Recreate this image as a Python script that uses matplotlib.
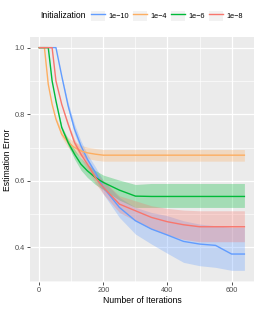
import matplotlib
matplotlib.use("Agg")
import matplotlib.pyplot as plt
from matplotlib.lines import Line2D
from matplotlib.patches import Patch

plt.rcParams['font.family'] = ['Liberation Sans', 'DejaVu Sans']

# data
iters = [0, 16, 28, 40, 52, 70, 90, 110, 130, 150, 175, 200, 250, 300, 350, 400, 450, 500, 550, 600, 640]

err_1e10 = [1.0, 1.0, 1.0, 1.0, 1.0, 0.915, 0.825, 0.755, 0.705, 0.665, 0.625, 0.58, 0.52, 0.48, 0.455, 0.437, 0.418, 0.41, 0.406, 0.38, 0.38]
lo_1e10 = [1.0, 1.0, 1.0, 1.0, 1.0, 0.915, 0.815, 0.74, 0.69, 0.65, 0.608, 0.56, 0.49, 0.44, 0.41, 0.382, 0.355, 0.345, 0.34, 0.331, 0.331]
hi_1e10 = [1.0, 1.0, 1.0, 1.0, 1.0, 0.915, 0.835, 0.77, 0.72, 0.68, 0.642, 0.60, 0.55, 0.52, 0.505, 0.495, 0.48, 0.47, 0.465, 0.46, 0.46]

err_1e4 = [1.0, 1.0, 0.89, 0.83, 0.785, 0.74, 0.715, 0.70, 0.69, 0.684, 0.68, 0.677, 0.677, 0.677, 0.677, 0.677, 0.677, 0.677, 0.677, 0.677, 0.677]
lo_1e4 = [1.0, 1.0, 0.89, 0.83, 0.78, 0.73, 0.70, 0.683, 0.673, 0.667, 0.662, 0.659, 0.659, 0.659, 0.659, 0.659, 0.659, 0.659, 0.659, 0.659, 0.659]
hi_1e4 = [1.0, 1.0, 0.89, 0.83, 0.79, 0.75, 0.73, 0.717, 0.707, 0.701, 0.697, 0.694, 0.694, 0.694, 0.694, 0.694, 0.694, 0.694, 0.694, 0.694, 0.694]

err_1e6 = [1.0, 1.0, 1.0, 0.90, 0.84, 0.76, 0.715, 0.68, 0.65, 0.63, 0.61, 0.595, 0.572, 0.554, 0.553, 0.553, 0.553, 0.553, 0.553, 0.553, 0.553]
lo_1e6 = [1.0, 1.0, 1.0, 0.90, 0.84, 0.755, 0.705, 0.665, 0.632, 0.61, 0.589, 0.573, 0.542, 0.52, 0.52, 0.52, 0.52, 0.52, 0.52, 0.52, 0.52]
hi_1e6 = [1.0, 1.0, 1.0, 0.90, 0.84, 0.765, 0.725, 0.695, 0.668, 0.65, 0.631, 0.617, 0.602, 0.589, 0.592, 0.592, 0.592, 0.592, 0.592, 0.592, 0.592]

err_1e8 = [1.0, 1.0, 1.0, 1.0, 0.90, 0.83, 0.77, 0.715, 0.68, 0.65, 0.61, 0.58, 0.53, 0.51, 0.49, 0.477, 0.468, 0.462, 0.462, 0.462, 0.462]
lo_1e8 = [1.0, 1.0, 1.0, 1.0, 0.90, 0.83, 0.765, 0.705, 0.667, 0.635, 0.593, 0.56, 0.505, 0.48, 0.455, 0.437, 0.424, 0.417, 0.417, 0.417, 0.417]
hi_1e8 = [1.0, 1.0, 1.0, 1.0, 0.90, 0.83, 0.775, 0.725, 0.693, 0.665, 0.627, 0.60, 0.555, 0.54, 0.525, 0.517, 0.512, 0.51, 0.51, 0.51, 0.51]

labels = ["1e\u221210", "1e\u22124", "1e\u22126", "1e\u22128"]
colors = ["#619CFF", "#FDAE61", "#00BA38", "#F8766D"]

series = [
    (err_1e10, lo_1e10, hi_1e10),
    (err_1e4, lo_1e4, hi_1e4),
    (err_1e6, lo_1e6, hi_1e6),
    (err_1e8, lo_1e8, hi_1e8),
]

fig = plt.figure(figsize=(2.58, 3.09), dpi=100)
ax = fig.add_axes([30 / 258, 1 - 282 / 309, 224 / 258, 245 / 309])
ax.set_facecolor("#EBEBEB")

# ribbons first, lines on top
for (m, lo, hi), c in zip(series, colors):
    ax.fill_between(iters, lo, hi, color=c, alpha=0.3, linewidth=0)
for (m, lo, hi), c in zip(series, colors):
    ax.plot(iters, m, color=c, linewidth=1.0)

ax.set_xlim(-29, 670)
ax.set_ylim(0.296, 1.032)
ax.set_xticks([0, 200, 400, 600])
ax.set_yticks([0.4, 0.6, 0.8, 1.0])
ax.set_yticklabels(["0.4", "0.6", "0.8", "1.0"])
ax.set_xticks([100, 300, 500], minor=True)
ax.set_yticks([0.3, 0.5, 0.7, 0.9], minor=True)
ax.grid(which="major", color="white", linewidth=0.9)
ax.grid(which="minor", color="white", linewidth=0.45)
ax.set_axisbelow(True)
for s in ax.spines.values():
    s.set_visible(False)
ax.tick_params(which="major", length=2, width=0.6, color="#333333",
               labelsize=5.3, labelcolor="#4D4D4D", pad=1.5)
ax.tick_params(which="minor", length=0)

ax.set_xlabel("Number of Iterations", fontsize=6.2, labelpad=1.5)
ax.set_ylabel("Estimation Error", fontsize=6.2, labelpad=2)

handles = [(Patch(facecolor="#F2F2F2", edgecolor="none"),
            Line2D([], [], color=c, linewidth=1.0)) for c in colors]
fig.text(40 / 258, 1 - 16 / 309, "Initialization", fontsize=6.2, va="center", ha="left")
fig.legend(handles, labels, loc="center left", bbox_to_anchor=(91 / 258, 1 - 16 / 309),
           ncol=4, frameon=False, fontsize=5.3, handlelength=1.9, handleheight=1.9,
           handletextpad=0.5, columnspacing=0.5, borderpad=0, borderaxespad=0)

fig.savefig("out.png", dpi=100)
